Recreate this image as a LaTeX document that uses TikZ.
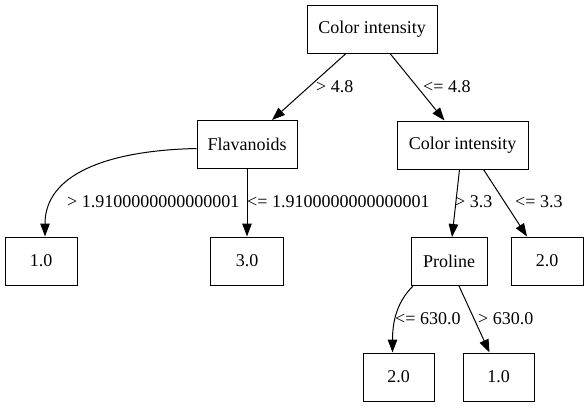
\documentclass[tikz,border=0pt]{standalone}
\usepackage{fontspec}
\setmainfont{Liberation Serif}
\usetikzlibrary{arrows.meta,calc}
\begin{document}
\begin{tikzpicture}[x=1pt,y=-1pt,
  box/.style={draw,line width=1pt,inner sep=0pt,minimum height=48pt,font=\fontsize{18}{20}\selectfont},
  edge/.style={draw,line width=1pt,-{Triangle[length=13pt,width=9.5pt]}},
  lbl/.style={anchor=west,inner sep=0pt,font=\fontsize{18}{20}\selectfont}]
\useasboundingbox (0,0) rectangle (588,407);
\node[box,minimum width=130pt] (root) at (372,29) {Color intensity};
\node[box,minimum width=100pt] (flav) at (247,144.5) {Flavanoids};
\node[box,minimum width=131pt] (ci2) at (462.5,145) {Color intensity};
\node[box,minimum width=72pt] (l1) at (41,261) {1.0};
\node[box,minimum width=73pt] (l3) at (247,261) {3.0};
\node[box,minimum width=76pt] (pro) at (449,261.5) {Proline};
\node[box,minimum width=72pt] (r2) at (547,261) {2.0};
\node[box,minimum width=71pt] (b2) at (398.5,377) {2.0};
\node[box,minimum width=71pt] (b1) at (498.5,377) {1.0};

\draw[edge] ($(root.south)+(-26,0)$) -- ($(flav.north)+(25,0)$);
\draw[edge] ($(root.south)+(18,0)$) -- ($(ci2.north)+(-18,0)$);
\draw[edge] ($(flav.west)+(0,4)$) .. controls +(-90,2) and +(0,-62) .. ($(l1.north)+(4,0)$);
\draw[edge] (flav.south) -- (l3.north);
\draw[edge] ($(ci2.south)+(-3,0)$) -- ($(pro.north)+(3,0)$);
\draw[edge] ($(ci2.south)+(21,0)$) -- ($(r2.north)+(-20,0)$);
\draw[edge] ($(pro.south)+(-36,0)$) .. controls +(-14,14) and +(0,-35) .. ($(b2.north)+(-6,0)$);
\draw[edge] ($(pro.south)+(10,0)$) -- ($(b1.north)+(-9,0)$);

\node[lbl] (e1) at (316,87) {> 4.8};
\node[lbl] (e2) at (423,87) {<= 4.8};
\node[lbl] (e3) at (67,202) {> 1.9100000000000001};
\node[lbl] (e4) at (247,202) {<= 1.9100000000000001};
\node[lbl] (e5) at (455,202) {> 3.3};
\node[lbl] (e6) at (515,202) {<= 3.3};
\node[lbl] (e7) at (395,319) {<= 630.0};
\node[lbl] (e8) at (478,319) {> 630.0};
\end{tikzpicture}
\end{document}
